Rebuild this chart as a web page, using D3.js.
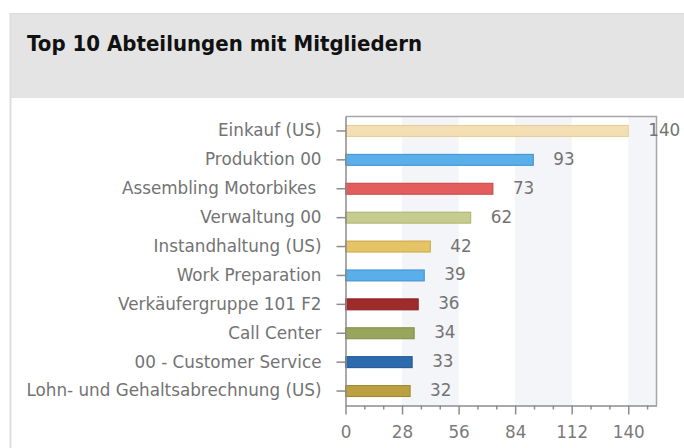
<!DOCTYPE html>
<html>
<head>
<meta charset="utf-8">
<script src="https://cdn.jsdelivr.net/npm/d3@7/dist/d3.min.js"></script>
<style>
  html, body { margin: 0; padding: 0; background: #fff; }
  svg { display: block; }
  text { font-family: "DejaVu Sans", Verdana, sans-serif; }
</style>
</head>
<body>
<svg id="chart" width="684" height="448"></svg>
<script>
// Departments and their member counts
const departments = [
  "Einkauf (US)",
  "Produktion 00",
  "Assembling Motorbikes ",
  "Verwaltung 00",
  "Instandhaltung (US)",
  "Work Preparation",
  "Verkäufergruppe 101 F2",
  "Call Center",
  "00 - Customer Service",
  "Lohn- und Gehaltsabrechnung (US)"
];
const members = [140, 93, 73, 62, 42, 39, 36, 34, 33, 32];
const barFills = ["#f3dfb3", "#5aaeea", "#e35d5d", "#c6cc8e", "#e4c466",
                  "#5aaeea", "#a02b2b", "#98a55c", "#2c6cae", "#bba040"];
const barStrokes = ["#e5cc96", "#3f90d2", "#c84545", "#abb26e", "#c9a745",
                    "#3f90d2", "#861d1d", "#7f8c46", "#1d5391", "#9f852b"];
const xTicks = [0, 28, 56, 84, 112, 140];
const xMax = 154;
const chartTitle = "Top 10 Abteilungen mit Mitgliedern";

const svg = d3.select("#chart");

// Header panel
svg.append("rect").attr("x", 10).attr("y", 13).attr("width", 674).attr("height", 85)
  .attr("fill", "#e4e4e4");
svg.append("line").attr("x1", 10).attr("x2", 684).attr("y1", 13.5).attr("y2", 13.5)
  .attr("stroke", "#d9d9d9");
svg.append("line").attr("x1", 10.5).attr("x2", 10.5).attr("y1", 13).attr("y2", 448)
  .attr("stroke", "#dedede").attr("stroke-width", 2);

svg.append("text").attr("x", 27).attr("y", 51)
  .attr("font-weight", "bold").attr("font-size", 21).attr("fill", "#111")
  .attr("textLength", 395).attr("lengthAdjust", "spacingAndGlyphs")
  .text(chartTitle);

// Plot geometry
const plotLeft = 345.5, plotRight = 656.5, plotTop = 116.5, plotBottom = 405.5;

const x = d3.scaleLinear().domain([0, xMax]).range([plotLeft, plotRight]);
const y = d3.scaleBand().domain(departments).range([plotTop, plotBottom])
  .paddingInner(0.62).paddingOuter(0.31);

// Alternating background bands
const bandStarts = xTicks.filter((d, i) => i % 2 === 1);
svg.append("g").selectAll("rect").data(bandStarts).join("rect")
  .attr("x", d => x(d))
  .attr("y", plotTop)
  .attr("width", d => Math.min(x(d + 28), plotRight) - x(d))
  .attr("height", plotBottom - plotTop)
  .attr("fill", "#f4f5f8");

// Frame (top and right)
svg.append("path")
  .attr("d", `M${plotLeft},${plotTop}H${plotRight}V${plotBottom}`)
  .attr("fill", "none").attr("stroke", "#a6a6a6").attr("stroke-width", 1.5);

// Bars
const rows = departments.map((d, i) => ({ name: d, value: members[i], i }));
svg.append("g").selectAll("rect").data(rows).join("rect")
  .attr("x", x(0))
  .attr("y", d => y(d.name))
  .attr("width", d => x(d.value) - x(0))
  .attr("height", y.bandwidth())
  .attr("fill", d => barFills[d.i])
  .attr("stroke", d => barStrokes[d.i])
  .attr("stroke-width", 1);

// Value labels
svg.append("g").selectAll("text").data(rows).join("text")
  .attr("x", d => x(d.value) + 20)
  .attr("y", d => y(d.name) + y.bandwidth() / 2 - 1)
  .attr("dominant-baseline", "central")
  .attr("font-size", 16.8)
  .attr("fill", "#737373")
  .text(d => d.value);

// Category axis
const yAxis = svg.append("g").attr("transform", `translate(${plotLeft},0)`)
  .call(d3.axisLeft(y).tickSize(9).tickSizeOuter(0).tickPadding(15));
yAxis.selectAll("text").attr("font-size", 16.8).attr("fill", "#737373")
  .attr("font-family", "DejaVu Sans").style("white-space", "pre");
yAxis.selectAll("line, path").attr("stroke", "#8c8c8c").attr("stroke-width", 1.5);

// Value axis: minor ticks then major ticks with labels
const minorTicks = d3.range(0, xMax, 28 / 3).filter((d, i) => i % 3 !== 0);
svg.append("g").attr("transform", `translate(0,${plotBottom})`)
  .call(d3.axisBottom(x).tickValues(minorTicks).tickSize(4).tickSizeOuter(0).tickFormat(""))
  .call(g => g.select(".domain").remove())
  .selectAll("line").attr("stroke", "#8c8c8c").attr("stroke-width", 1.5);

const xAxis = svg.append("g").attr("transform", `translate(0,${plotBottom})`)
  .call(d3.axisBottom(x).tickValues(xTicks).tickSize(9).tickSizeOuter(0).tickPadding(12));
xAxis.selectAll("text").attr("font-size", 16.8).attr("fill", "#7a7a7a")
  .attr("font-family", "DejaVu Sans");
xAxis.selectAll("line, path").attr("stroke", "#8c8c8c").attr("stroke-width", 1.5);
</script>
</body>
</html>
